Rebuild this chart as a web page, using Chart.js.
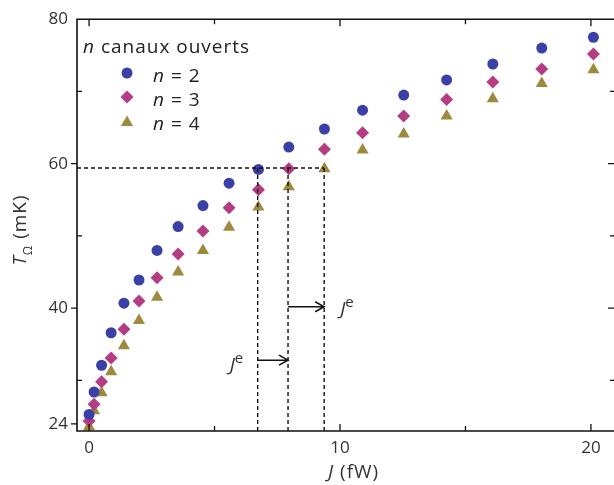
<!DOCTYPE html>
<html>
<head>
<meta charset="utf-8">
<script src="https://cdn.jsdelivr.net/npm/chart.js@4/dist/chart.umd.min.js"></script>
<style>
  html, body { margin: 0; padding: 0; background: #fff; }
  #wrap { width: 614px; height: 485px; }
</style>
</head>
<body>
<div id="wrap"><canvas id="chart" width="614" height="485"></canvas></div>
<script>
// injected power J (fW), shared by the three series
const currents = [0, 0.2, 0.5, 0.88, 1.39, 1.99, 2.71, 3.55, 4.54, 5.58, 6.75, 7.96, 9.38, 10.9, 12.54, 14.25, 16.09, 18.04, 20.1];
// electron temperature T_Omega (mK)
const tempN2 = [25.3, 28.4, 32.1, 36.6, 40.7, 43.9, 48.0, 51.3, 54.2, 57.3, 59.2, 62.3, 64.8, 67.4, 69.5, 71.6, 73.8, 76.0, 77.5];
const tempN3 = [24.4, 26.7, 29.8, 33.1, 37.1, 41.0, 44.2, 47.5, 50.7, 53.9, 56.4, 59.3, 62.0, 64.3, 66.6, 68.9, 71.3, 73.1, 75.2];
const tempN4 = [23.6, 25.8, 28.3, 31.2, 34.8, 38.3, 41.5, 45.0, 48.0, 51.2, 54.0, 56.8, 59.3, 61.9, 64.1, 66.6, 69.0, 71.1, 73.0];

const seriesLabels = ["2", "3", "4"];
const seriesColors = ["#3b40a6", "#b43c82", "#9d8a3e"];
const seriesShapes = ["circle", "rectRot", "triangle"];
const seriesRadius = [5.5, 6.5, 7];

// guide lines: common temperature and the J where each curve reaches it
const guideTemp = 59.4;
const guideCurrents = [6.72, 7.93, 9.37];
const arrowTemps = [32.8, 40.2];

const xTicks = [0, 5, 10, 15, 20];
const xLabelled = [0, 10, 20];
const yTicks = [24, 30, 40, 50, 60, 70, 80];
const yLabelled = [24, 40, 60, 80];
const X_MIN = -0.48, X_MAX = 20.92, Y_MIN = 23, Y_MAX = 80;

const FONT = "'Open Sans', 'DejaVu Sans', sans-serif";
const INK = "#333";

const pts = (ys) => currents.map((x, i) => ({ x, y: ys[i] }));

const scatterSets = [tempN2, tempN3, tempN4].map((ys, i) => ({
    type: "scatter",
    label: "n = " + seriesLabels[i],
    data: pts(ys),
    pointStyle: seriesShapes[i],
    pointRadius: seriesRadius[i],
    pointBackgroundColor: seriesColors[i],
    pointBorderWidth: 0,
    clip: false,
}));

const dashStyle = { type: "line", borderColor: "#111", borderWidth: 1.4, borderDash: [4, 3], pointRadius: 0, fill: false, clip: false };
const guideSets = [
    { ...dashStyle, data: [{ x: X_MIN, y: guideTemp }, { x: guideCurrents[2], y: guideTemp }] },
    ...guideCurrents.map((j) => ({ ...dashStyle, data: [{ x: j, y: guideTemp }, { x: j, y: Y_MIN }] })),
];

function textRun(ctx, parts, x, y) {
    // parts: [text, font, dy] drawn one after another
    let cx = x;
    parts.forEach(([text, font, dy]) => {
        ctx.font = font;
        ctx.fillText(text, cx, y + (dy || 0));
        cx += ctx.measureText(text).width;
    });
    return cx;
}

const decor = {
    id: "decor",
    afterDatasetsDraw(chart) {
        const { ctx, chartArea: a, scales: { x, y } } = chart;
        ctx.save();
        ctx.strokeStyle = "#111";
        ctx.lineWidth = 1.6;
        ctx.setLineDash([]);
        // frame: left, top, bottom (right side falls off the picture)
        ctx.beginPath();
        ctx.moveTo(a.right + 2, a.top);
        ctx.lineTo(a.left, a.top);
        ctx.lineTo(a.left, a.bottom);
        ctx.lineTo(a.right + 2, a.bottom);
        ctx.stroke();

        ctx.lineWidth = 1.3;
        ctx.beginPath();
        xTicks.forEach((v) => {
            const px = x.getPixelForValue(v);
            const len = xLabelled.includes(v) ? 7 : 5;
            ctx.moveTo(px, a.bottom); ctx.lineTo(px, a.bottom - len);
            ctx.moveTo(px, a.top); ctx.lineTo(px, a.top + len);
        });
        yTicks.forEach((v) => {
            const py = y.getPixelForValue(v);
            if (yLabelled.includes(v)) {
                if (v !== Y_MAX) { ctx.moveTo(a.left, py); ctx.lineTo(a.left - 6, py); }
            } else {
                ctx.moveTo(a.left, py); ctx.lineTo(a.left + 5, py);
            }
            if (v !== Y_MAX && v !== 24) { ctx.moveTo(a.right, py); ctx.lineTo(a.right - (yLabelled.includes(v) ? 6 : 4), py); }
        });
        ctx.stroke();

        // arrows between the guide lines
        ctx.lineWidth = 1.5;
        arrowTemps.forEach((t, i) => {
            const x0 = x.getPixelForValue(guideCurrents[i]);
            const x1 = x.getPixelForValue(guideCurrents[i + 1]);
            const py = y.getPixelForValue(t);
            ctx.beginPath();
            ctx.moveTo(x0, py); ctx.lineTo(x1, py);
            ctx.moveTo(x1 - 9, py - 5); ctx.lineTo(x1, py); ctx.lineTo(x1 - 9, py + 5);
            ctx.stroke();
        });

        ctx.fillStyle = INK;
        ctx.textBaseline = "alphabetic";
        ctx.textAlign = "left";
        // J^e labels
        const jFont = "italic 19px " + FONT;
        const eFont = "15px " + FONT;
        {
            const px = x.getPixelForValue(guideCurrents[0]);
            const py = y.getPixelForValue(arrowTemps[0]);
            textRun(ctx, [["J", jFont, 0], ["e", eFont, -8]], px - 28, py + 11);
        }
        {
            const px = x.getPixelForValue(guideCurrents[2]);
            const py = y.getPixelForValue(arrowTemps[1]);
            textRun(ctx, [["J", jFont, 0], ["e", eFont, -8]], px + 16, py + 8);
        }

        // legend
        ctx.letterSpacing = "1px";
        ctx.fillStyle = "#222";
        textRun(ctx, [["n", "italic 19px " + FONT], [" canaux ouverts", "19px " + FONT]], 83, 53);
        seriesLabels.forEach((lab, i) => {
            const cy = 73 + i * 24;
            ctx.fillStyle = seriesColors[i];
            Chart.helpers.drawPoint(ctx, { pointStyle: seriesShapes[i], radius: seriesRadius[i], borderWidth: 0 }, 127, cy + (i === 2 ? 1.5 : 0));
            ctx.fillStyle = "#222";
            textRun(ctx, [["n", "italic 19px " + FONT], [" = " + lab, "19px " + FONT]], 153, cy + 9);
        });

        // axis titles
        ctx.fillStyle = INK;
        textRun(ctx, [["J", "italic 19px " + FONT], [" (fW)", "19px " + FONT]], 328, 478);

        ctx.save();
        ctx.translate(26, 0);
        ctx.rotate(-Math.PI / 2);
        const tW = (ctx.font = "italic 19px " + FONT, ctx.measureText("T").width);
        const oW = (ctx.font = "12px " + FONT, ctx.measureText("Ω").width);
        const mW = (ctx.font = "19px " + FONT, ctx.measureText(" (mK)").width);
        const start = -230 - (tW + oW + mW) / 2;
        textRun(ctx, [["T", "italic 19px " + FONT, 0], ["Ω", "12px " + FONT, 6], [" (mK)", "19px " + FONT, 0]], start, 0);
        ctx.restore();

        ctx.restore();
    },
};

new Chart(document.getElementById("chart"), {
    data: { datasets: [...guideSets, ...scatterSets] },
    options: {
        responsive: false,
        animation: false,
        layout: { autoPadding: false, padding: { top: 19, right: 0, left: 0, bottom: 0 } },
        plugins: { legend: { display: false }, tooltip: { enabled: false } },
        scales: {
            x: {
                type: "linear",
                min: X_MIN,
                max: X_MAX,
                grid: { display: false, drawTicks: false },
                border: { display: false },
                afterBuildTicks: (s) => { s.ticks = xTicks.map((v) => ({ value: v })); },
                afterFit: (s) => { s.height = 54; s.paddingLeft = 0; s.paddingRight = 0; },
                ticks: {
                    autoSkip: false,
                    maxRotation: 0,
                    padding: 7,
                    color: INK,
                    font: { family: FONT, size: 17 },
                    callback: (v) => (xLabelled.includes(v) ? String(v) : ""),
                },
            },
            y: {
                type: "linear",
                min: Y_MIN,
                max: Y_MAX,
                grid: { display: false, drawTicks: false },
                border: { display: false },
                afterBuildTicks: (s) => { s.ticks = yTicks.map((v) => ({ value: v })); },
                afterFit: (s) => { s.width = 77; },
                ticks: {
                    autoSkip: false,
                    padding: 9,
                    color: INK,
                    font: { family: FONT, size: 17 },
                    callback: (v) => (yLabelled.includes(v) ? String(v) : ""),
                },
            },
        },
    },
    plugins: [decor],
});
</script>
</body>
</html>
